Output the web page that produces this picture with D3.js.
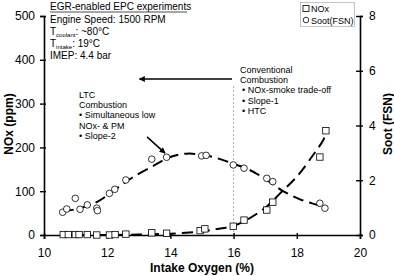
<!DOCTYPE html>
<html>
<head>
<meta charset="utf-8">
<script src="https://cdn.jsdelivr.net/npm/d3@7"></script>
<style>
  body { margin: 0; background: #fff; }
  text { font-family: "Liberation Sans", Arial, sans-serif; fill: #000; }
</style>
</head>
<body>
<div id="chart"></div>
<script>
// measured points (intake O2 %, NOx ppm / soot FSN)
const noxO2 = [10.61, 10.77, 10.99, 11.11, 11.37, 11.67, 12.07, 12.25, 12.59, 13.41, 13.88, 14.94, 15.09, 15.99, 16.33, 17.05, 17.24, 18.73, 18.92]
const noxPpm = [1, 1, 1, 1, 1, 0, 0, 1, 2, 5, 4, 10, 14, 20, 34, 57, 75, 178, 238]
const sootO2 = [10.59, 10.72, 10.99, 11.14, 11.37, 11.67, 11.69, 12.07, 12.24, 12.59, 13.41, 13.88, 14.99, 15.13, 15.99, 16.33, 17.05, 17.24, 18.73, 18.89]
const sootFsn = [0.83, 0.95, 1.34, 0.94, 1.10, 0.98, 0.89, 1.52, 1.67, 2.01, 2.77, 2.84, 2.89, 2.91, 2.56, 2.44, 2.07, 1.95, 1.16, 0.98]

// dashed trend lines
const noxFitO2 = [10.6, 12.0, 13.0, 14.0, 15.0, 15.25, 16.0, 16.5, 17.05, 17.47, 18.0, 18.5, 18.84, 18.9]
const noxFitPpm = [0, 0, 1, 3, 8, 11, 21, 38, 65, 95, 133, 181, 217, 228]
const sootFitO2 = [10.6, 11.2, 11.7, 12.3, 12.8, 13.5, 14.0, 14.5, 15.0, 15.5, 16.0, 16.5, 17.0, 17.5, 18.1, 18.7, 18.95]
const sootFitFsn = [0.85, 1.0, 1.22, 1.7, 2.1, 2.55, 2.85, 2.97, 2.93, 2.8, 2.6, 2.38, 2.05, 1.65, 1.3, 1.08, 0.97]

const xTicks = [10, 12, 14, 16, 18, 20]
const noxTicks = [0, 100, 200, 300, 400, 500]
const sootTicks = [0, 2, 4, 6, 8]

const W = 394, H = 276
const svg = d3.select("#chart").append("svg")
    .attr("width", W).attr("height", H)

const x = d3.scaleLinear().domain([10, 20]).range([44, 360])
const yL = d3.scaleLinear().domain([0, 500]).range([235, 16])
const yR = d3.scaleLinear().domain([0, 8]).range([235, 16])

// vertical divider at 16 %
svg.append("line")
    .attr("x1", x(16)).attr("x2", x(16))
    .attr("y1", 86).attr("y2", yL(0))
    .attr("stroke", "#999").attr("stroke-width", 0.8)
    .attr("stroke-dasharray", "2,2")

// axes
const styleAxis = (g) => {
    g.select(".domain").attr("stroke-width", 1.6)
    g.selectAll(".tick line").attr("stroke-width", 1.4)
    g.selectAll(".tick text").style("font-size", "12px")
        .style("font-family", "Liberation Sans, Arial, sans-serif")
}

svg.append("g")
    .attr("transform", `translate(0,${yL(0)})`)
    .call(d3.axisBottom(x).tickValues(xTicks).tickSizeOuter(0).tickSize(4).tickPadding(9))
    .call(styleAxis)
    .call(g => g.selectAll(".tick line").attr("y1", -2))

svg.append("g")
    .attr("transform", `translate(${x(10)},0)`)
    .call(d3.axisLeft(yL).tickValues(noxTicks).tickSizeOuter(0).tickSize(4).tickPadding(5))
    .call(styleAxis)
    .call(g => g.selectAll(".tick line").attr("x1", 2))

svg.append("g")
    .attr("transform", `translate(${x(20)},0)`)
    .call(d3.axisRight(yR).tickValues(sootTicks).tickSizeOuter(0).tickSize(3).tickPadding(6))
    .call(styleAxis)
    .call(g => g.selectAll(".tick line").attr("x1", -4))

// axis titles
svg.append("text")
    .attr("transform", `translate(13,124) rotate(-90)`)
    .attr("text-anchor", "middle")
    .style("font-size", "12px").style("font-weight", "bold")
    .text("NOx (ppm)")
svg.append("text")
    .attr("transform", `translate(392,124) rotate(-90)`)
    .attr("text-anchor", "middle")
    .style("font-size", "12px").style("font-weight", "bold")
    .text("Soot (FSN)")
svg.append("text")
    .attr("x", 202).attr("y", 272)
    .attr("text-anchor", "middle")
    .style("font-size", "12px").style("font-weight", "bold")
    .text("Intake Oxygen (%)")

// trend lines
const noxLine = d3.line()
    .x(d => x(d[0])).y(d => yL(d[1]))
    .curve(d3.curveCatmullRom)
const sootLine = d3.line()
    .x(d => x(d[0])).y(d => yR(d[1]))
    .curve(d3.curveCatmullRom)

svg.append("path")
    .datum(d3.zip(noxFitO2, noxFitPpm))
    .attr("d", noxLine)
    .attr("fill", "none").attr("stroke", "#000")
    .attr("stroke-width", 2).attr("stroke-dasharray", "11,6")
svg.append("path")
    .datum(d3.zip(sootFitO2, sootFitFsn))
    .attr("d", sootLine)
    .attr("fill", "none").attr("stroke", "#000")
    .attr("stroke-width", 2).attr("stroke-dasharray", "11,6")

// markers
svg.selectAll(".nox")
    .data(d3.zip(noxO2, noxPpm))
    .join("rect")
    .attr("x", d => x(d[0]) - 3.2)
    .attr("y", d => yL(d[1]) - 3.2)
    .attr("width", 6.4).attr("height", 6.4)
    .attr("fill", "#fff").attr("stroke", "#000").attr("stroke-width", 0.8)

svg.selectAll(".soot")
    .data(d3.zip(sootO2, sootFsn))
    .join("circle")
    .attr("cx", d => x(d[0]))
    .attr("cy", d => yR(d[1]))
    .attr("r", 3.3)
    .attr("fill", "#fff").attr("stroke", "#000").attr("stroke-width", 0.8)

// legend
svg.append("rect")
    .attr("x", 300.5).attr("y", 2.5).attr("width", 54).attr("height", 24)
    .attr("fill", "#fff").attr("stroke", "#aaa").attr("stroke-width", 0.7)
svg.append("rect")
    .attr("x", 303).attr("y", 5.5).attr("width", 6).attr("height", 6)
    .attr("fill", "#fff").attr("stroke", "#000").attr("stroke-width", 0.8)
svg.append("circle")
    .attr("cx", 306).attr("cy", 20).attr("r", 2.8)
    .attr("fill", "#fff").attr("stroke", "#000").attr("stroke-width", 0.8)
svg.append("text").attr("x", 311).attr("y", 12)
    .style("font-size", "9px").text("NOx")
svg.append("text").attr("x", 311).attr("y", 24)
    .style("font-size", "9px").text("Soot(FSN)")

// conditions block
const info = svg.append("g").style("font-size", "10px")
info.append("text").attr("x", 50).attr("y", 10)
    .text("EGR-enabled EPC experiments")
info.append("line")
    .attr("x1", 50).attr("x2", 187).attr("y1", 12).attr("y2", 12)
    .attr("stroke", "#000").attr("stroke-width", 0.7)
info.append("text").attr("x", 50).attr("y", 23).text("Engine Speed: 1500 RPM")
const t1 = info.append("text").attr("x", 50).attr("y", 35)
t1.append("tspan").text("T")
t1.append("tspan").attr("dy", 2).style("font-size", "6px").text("coolant")
t1.append("tspan").attr("dy", -2).text(": ~80°C")
const t2 = info.append("text").attr("x", 50).attr("y", 47)
t2.append("tspan").text("T")
t2.append("tspan").attr("dy", 2).style("font-size", "6px").text("intake")
t2.append("tspan").attr("dy", -2).text(": 19°C")
info.append("text").attr("x", 50).attr("y", 59).text("IMEP: 4.4 bar")

// arrow heads
const defs = svg.append("defs")
defs.append("marker")
    .attr("id", "head")
    .attr("viewBox", "0 0 10 10")
    .attr("refX", 9).attr("refY", 5)
    .attr("markerWidth", 8).attr("markerHeight", 6)
    .attr("markerUnits", "userSpaceOnUse")
    .attr("orient", "auto")
    .append("path").attr("d", "M0,0L10,5L0,10Z").attr("fill", "#000")

svg.append("line")
    .attr("x1", x(15.95)).attr("x2", x(13.02))
    .attr("y1", yL(356)).attr("y2", yL(356))
    .attr("stroke", "#000").attr("stroke-width", 1.5)
    .attr("marker-end", "url(#head)")

svg.append("line")
    .attr("x1", x(13.26)).attr("y1", yL(224))
    .attr("x2", x(13.83)).attr("y2", yL(187))
    .attr("stroke", "#000").attr("stroke-width", 1.5)
    .attr("marker-end", "url(#head)")

// annotation text
const note = (lines, x0, y0) => {
    const g = svg.append("g").style("font-size", "9px")
    lines.forEach((l, i) => {
        g.append("text").attr("x", x0 + (l.indent || 0)).attr("y", y0 + i * 10.2)
            .text(l.t)
    })
}
note([
    {t: "LTC"},
    {t: "Combustion"},
    {t: "\u2022 Simultaneous low"},
    {t: "NOx- & PM"},
    {t: "\u2022 Slope-2"}
], 79, 98)
note([
    {t: "Conventional"},
    {t: "Combustion"},
    {t: "\u2022 NOx-smoke trade-off", indent: 2},
    {t: "\u2022 Slope-1", indent: 2},
    {t: "\u2022 HTC", indent: 2}
], 240, 73)
</script>
</body>
</html>
